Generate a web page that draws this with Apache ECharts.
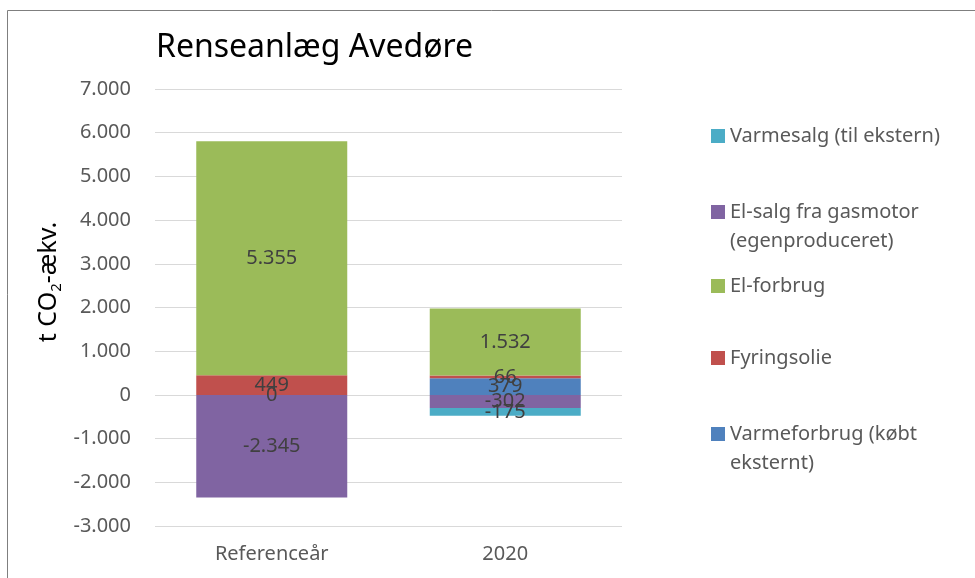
<!DOCTYPE html>
<html>
<head>
<meta charset="utf-8">
<script src="https://cdn.jsdelivr.net/npm/echarts@6/dist/echarts.min.js"></script>
<style>
  html, body { margin: 0; padding: 0; background: #fff; }
  #chart { width: 975px; height: 578px; }
</style>
</head>
<body>
<div id="chart"></div>
<script>
var categories = ['Referenceår', '2020'];
var varmeforbrug = [0, 379];
var fyringsolie = [449, 66];
var elForbrug = [5355, 1532];
var elSalg = [-2345, -302];
var varmesalg = [null, -175];

var yTicks = { min: -3000, max: 7000, interval: 1000 };

var FONT = '"Noto Sans", sans-serif';
var GREY = '#595959';

function fmt(v) {
  var s = String(Math.abs(v)).replace(/\B(?=(\d{3})+(?!\d))/g, '.');
  return (v < 0 ? '-' : '') + s;
}

var chart = echarts.init(document.getElementById('chart'));

function mkSeries(name, data, color) {
  return {
    name: name,
    type: 'bar',
    stack: 'total',
    data: data,
    barWidth: 151,
    itemStyle: { color: color },
    label: {
      show: true,
      position: 'inside',
      color: '#404040',
      fontSize: 20,
      fontFamily: FONT,
      formatter: function (p) { return p.value == null ? '' : fmt(p.value); }
    }
  };
}

// one legend per entry, the gaps in the original are uneven
function mkLegend(name, iconY, label) {
  return {
    data: [name],
    left: 706,
    top: iconY - 19.5,
    itemWidth: 14,
    itemHeight: 14,
    icon: 'rect',
    formatter: function () { return label; },
    textStyle: { color: GREY, fontSize: 20, fontFamily: FONT, lineHeight: 29 }
  };
}

// second line of the long legend names
function legendLine2(text, y) {
  return {
    type: 'text',
    x: 730,
    y: y,
    silent: true,
    style: { text: text, fill: GREY, fontSize: 20, fontFamily: FONT, verticalAlign: 'middle' }
  };
}

chart.setOption({
  backgroundColor: '#fff',
  animation: false,
  title: {
    text: 'Renseanlæg Avedøre',
    left: 151,
    top: 27,
    textStyle: { color: '#000', fontSize: 32, fontWeight: 'normal', fontFamily: FONT }
  },
  legend: [
    mkLegend('Varmesalg (til ekstern)', 136, 'Varmesalg (til ekstern)'),
    mkLegend('El-salg fra gasmotor (egenproduceret)', 212, 'El-salg fra gasmotor'),
    mkLegend('El-forbrug', 286, 'El-forbrug'),
    mkLegend('Fyringsolie', 358, 'Fyringsolie'),
    mkLegend('Varmeforbrug (købt eksternt)', 434, 'Varmeforbrug (købt')
  ],
  grid: { left: 155, right: 353, top: 89, bottom: 52 },
  xAxis: {
    type: 'category',
    data: categories,
    axisLine: { show: false },
    axisTick: { show: false },
    axisLabel: { color: GREY, fontSize: 20, fontFamily: FONT, margin: 18 }
  },
  yAxis: {
    type: 'value',
    min: yTicks.min,
    max: yTicks.max,
    interval: yTicks.interval,
    axisLine: { show: false },
    axisTick: { show: false },
    splitLine: { lineStyle: { color: '#d9d9d9', width: 1 } },
    axisLabel: { color: GREY, fontSize: 20, fontFamily: FONT, margin: 24, formatter: fmt }
  },
  graphic: [
    {
      type: 'rect',
      shape: { x: 7.5, y: 10.5, width: 1000, height: 700 },
      style: { fill: null, stroke: '#7f7f7f', lineWidth: 1 },
      silent: true
    },
    legendLine2('(egenproduceret)', 241),
    legendLine2('eksternt)', 463),
    {
      type: 'text',
      x: 49,
      y: 282,
      rotation: Math.PI / 2,
      style: {
        text: '{a|t CO}{s|2}{a|-ækv.}',
        align: 'center',
        verticalAlign: 'middle',
        rich: {
          a: { fontSize: 25, fontFamily: FONT, fill: '#000', lineHeight: 30 },
          s: { fontSize: 15, fontFamily: FONT, fill: '#000', lineHeight: 30, verticalAlign: 'bottom', padding: [12, 0, 0, 0] }
        }
      }
    }
  ],
  series: [
    mkSeries('Varmeforbrug (købt eksternt)', varmeforbrug, '#4F81BD'),
    mkSeries('Fyringsolie', fyringsolie, '#C0504D'),
    mkSeries('El-forbrug', elForbrug, '#9BBB59'),
    mkSeries('El-salg fra gasmotor (egenproduceret)', elSalg, '#8064A2'),
    mkSeries('Varmesalg (til ekstern)', varmesalg, '#4BACC6')
  ]
});
</script>
</body>
</html>
